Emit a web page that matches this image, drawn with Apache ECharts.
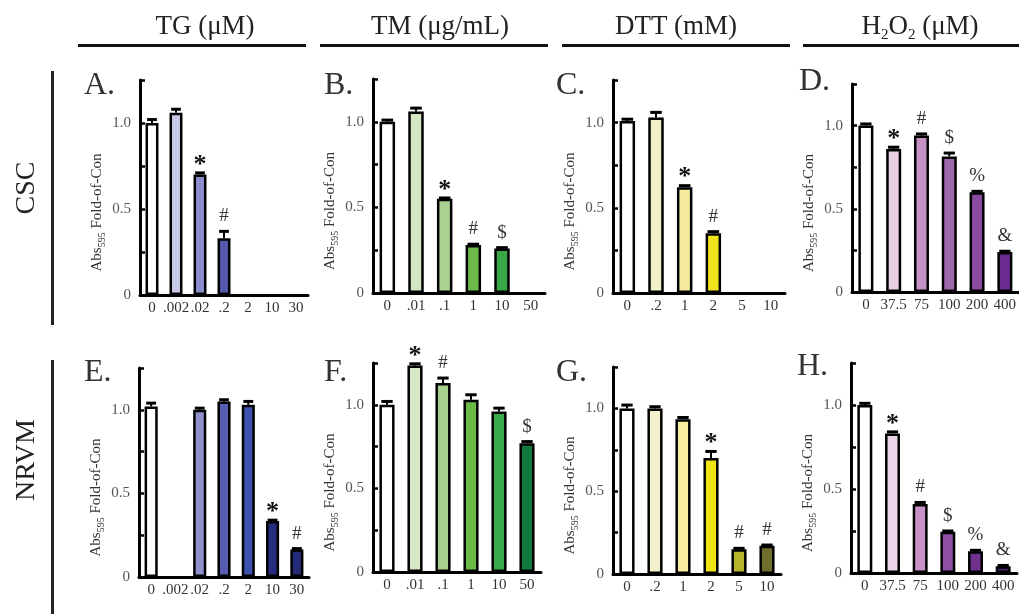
<!DOCTYPE html>
<html>
<head>
<meta charset="utf-8">
<script src="https://cdn.jsdelivr.net/npm/echarts@6/dist/echarts.min.js"></script>
<style>html,body{margin:0;padding:0;background:#fff}#c{width:1019px;height:614px}</style>
</head>
<body>
<div id="c"></div>
<script>
// ---- categories (tick labels) ----
const tgCats = ['0', '.002', '.02', '.2', '2', '10', '30'];
const tmCats = ['0', '.01', '.1', '1', '10', '50'];
const dttCats = ['0', '.2', '1', '2', '5', '10'];
const h2o2Cats = ['0', '37.5', '75', '100', '200', '400'];

// ---- values (Abs595 fold of control) ----
const cscTG = [1.00, 1.06, 0.70, 0.33, null, null, null];
const cscTGErr = [0.02, 0.02, 0.01, 0.04, 0, 0, 0];
const cscTGSig = ['', '', '*', '#', '', '', ''];

const cscTM = [1.00, 1.06, 0.55, 0.28, 0.26, null];
const cscTMErr = [0.01, 0.02, 0.005, 0.005, 0.005, 0];
const cscTMSig = ['', '', '*', '#', '$', ''];

const cscDTT = [1.01, 1.03, 0.62, 0.35, null, null];
const cscDTTErr = [0.01, 0.03, 0.01, 0.01, 0, 0];
const cscDTTSig = ['', '', '*', '#', '', ''];

const cscH2O2 = [1.00, 0.86, 0.94, 0.815, 0.60, 0.24];
const cscH2O2Err = [0.01, 0.01, 0.01, 0.02, 0.005, 0.005];
const cscH2O2Sig = ['', '*', '#', '$', '%', '&'];

const nrvmTG = [1.02, null, 1.00, 1.05, 1.03, 0.335, 0.165];
const nrvmTGErr = [0.02, 0, 0.01, 0.01, 0.02, 0.005, 0.005];
const nrvmTGSig = ['', '', '', '', '', '*', '#'];

const nrvmTM = [1.00, 1.235, 1.13, 1.03, 0.96, 0.77];
const nrvmTMErr = [0.02, 0.01, 0.03, 0.03, 0.02, 0.01];
const nrvmTMSig = ['', '*', '#', '', '', '$'];

const nrvmDTT = [1.00, 1.00, 0.935, 0.70, 0.15, 0.17];
const nrvmDTTErr = [0.02, 0.01, 0.01, 0.04, 0.005, 0.005];
const nrvmDTTSig = ['', '', '', '*', '#', '#'];

const nrvmH2O2 = [1.00, 0.83, 0.41, 0.245, 0.13, 0.04];
const nrvmH2O2Err = [0.01, 0.01, 0.01, 0.005, 0.005, 0.005];
const nrvmH2O2Sig = ['', '*', '#', '$', '%', '&'];

// ---- styles ----
const tgCscColors = ['#ffffff', '#c9c9e8', '#8b8ecb', '#5558ad', '#000', '#000', '#000'];
const tgNrvmColors = ['#ffffff', '#000', '#8f91cd', '#585cb3', '#3d53ad', '#272c80', '#252a77'];
const tmCscColors = ['#ffffff', '#d4e7c2', '#a9d18f', '#6dba48', '#38a847', '#000'];
const tmNrvmColors = ['#ffffff', '#d6e9c6', '#a8d190', '#6cba46', '#3aab4b', '#107a3e'];
const dttCscColors = ['#ffffff', '#f3f0c8', '#f6eb9c', '#f0e21c', '#000', '#000'];
const dttNrvmColors = ['#ffffff', '#f4f1cd', '#f7eda0', '#f0e314', '#b5b62c', '#6f6e2c'];
const h2o2CscColors = ['#ffffff', '#e8cfe4', '#c591c4', '#a066ac', '#8a4aa0', '#6b2b90'];
const h2o2NrvmColors = ['#ffffff', '#edd5e9', '#c894c7', '#8e4ea2', '#70308d', '#4b1e6f'];

const FONT = '"Liberation Serif", "DejaVu Serif", serif';

const panels = [
  {letter: 'A.', cats: tgCats, vals: cscTG, errs: cscTGErr, sig: cscTGSig, colors: tgCscColors, left: 140, top: 80, width: 168, height: 215, lx: 84, ly: 70},
  {letter: 'B.', cats: tmCats, vals: cscTM, errs: cscTMErr, sig: cscTMSig, colors: tmCscColors, left: 373, top: 79, width: 172, height: 214, lx: 324, ly: 70},
  {letter: 'C.', cats: dttCats, vals: cscDTT, errs: cscDTTErr, sig: cscDTTSig, colors: dttCscColors, left: 613, top: 80, width: 172, height: 213, lx: 556, ly: 70},
  {letter: 'D.', cats: h2o2Cats, vals: cscH2O2, errs: cscH2O2Err, sig: cscH2O2Sig, colors: h2o2CscColors, left: 852, top: 84, width: 168, height: 208, lx: 799, ly: 66},
  {letter: 'E.', cats: tgCats, vals: nrvmTG, errs: nrvmTGErr, sig: nrvmTGSig, colors: tgNrvmColors, left: 139, top: 368, width: 170, height: 209, lx: 84, ly: 357},
  {letter: 'F.', cats: tmCats, vals: nrvmTM, errs: nrvmTMErr, sig: nrvmTMSig, colors: tmNrvmColors, left: 373, top: 363, width: 168, height: 209, lx: 324, ly: 357},
  {letter: 'G.', cats: dttCats, vals: nrvmDTT, errs: nrvmDTTErr, sig: nrvmDTTSig, colors: dttNrvmColors, left: 613, top: 367, width: 168, height: 207, lx: 556, ly: 357},
  {letter: 'H.', cats: h2o2Cats, vals: nrvmH2O2, errs: nrvmH2O2Err, sig: nrvmH2O2Sig, colors: h2o2NrvmColors, left: 851, top: 363, width: 166, height: 210, lx: 797, ly: 351}
];

const grid = [], xAxis = [], yAxis = [], series = [];
panels.forEach((p, i) => {
  grid.push({left: p.left, top: p.top, width: p.width, height: p.height, containLabel: false});
  xAxis.push({
    gridIndex: i, type: 'category', data: p.cats,
    axisLine: {onZero: false, lineStyle: {color: '#000', width: 3}},
    axisTick: {alignWithLabel: true, length: 7, lineStyle: {color: '#000', width: 2.5}},
    axisLabel: {interval: 0, color: '#333', fontSize: 15, fontFamily: FONT, margin: 6}
  });
  yAxis.push({
    gridIndex: i, type: 'value', min: 0, max: 1.25, interval: 0.25,
    axisLine: {show: true, lineStyle: {color: '#000', width: 3}},
    axisTick: {show: true, inside: true, length: 5, lineStyle: {color: '#000', width: 2.5}},
    splitLine: {show: false},
    axisLabel: {
      color: '#555', fontSize: 15, fontFamily: FONT, margin: 9,
      formatter: v => (v === 0 ? '0' : v === 0.5 ? '0.5' : v === 1 ? '1.0' : '')
    },
    name: '{a|Abs}{s|595}{a| Fold-of-Con}',
    nameLocation: 'middle', nameGap: 33, nameRotate: 90,
    nameTextStyle: {
      color: '#333', fontFamily: FONT, padding: [0, 50, 0, 0],
      rich: {
        a: {fontSize: 15, fontFamily: FONT, color: '#333', lineHeight: 20, verticalAlign: 'middle'},
        s: {fontSize: 10, fontFamily: FONT, color: '#333', lineHeight: 10, verticalAlign: 'bottom'}
      }
    }
  });
  series.push({
    type: 'bar', xAxisIndex: i, yAxisIndex: i, barWidth: '54%',
    data: p.vals.map((v, k) => v == null ? '-' : {value: v, itemStyle: {color: p.colors[k]}}),
    itemStyle: {borderColor: '#000', borderWidth: 2.5},
    emphasis: {disabled: true}, animation: false
  });
  series.push({
    type: 'custom', xAxisIndex: i, yAxisIndex: i, animation: false, z: 5,
    data: p.vals.map((v, k) => v == null ? [k, 0, 0] : [k, v, p.errs[k]]),
    renderItem: function (params, api) {
      const k = params.dataIndex;
      if (p.vals[k] == null) return null;
      const v = api.value(1), e = api.value(2);
      const base = api.coord([k, v]);
      const top = api.coord([k, v + e]);
      const bw = api.size([1, 0])[0] * 0.54;
      const cw = bw * 0.75;
      const children = [
        {type: 'line', shape: {x1: base[0], y1: base[1], x2: top[0], y2: top[1]}, style: {stroke: '#000', lineWidth: 2}},
        {type: 'line', shape: {x1: top[0] - cw / 2, y1: top[1], x2: top[0] + cw / 2, y2: top[1]}, style: {stroke: '#000', lineWidth: 3}}
      ];
      const s = p.sig[k];
      if (s) {
        const isStar = s === '*';
        children.push({
          type: 'text', x: top[0], y: top[1] - (isStar ? 8 : 15),
          style: {text: s, fill: isStar ? '#111' : '#333', align: 'center', verticalAlign: 'middle',
                  font: (isStar ? 'bold 26px ' : '19px ') + FONT}
        });
      }
      return {type: 'group', children};
    }
  });
});

const graphic = [];
// header texts and lines
const headers = [
  {text: 'TG (μM)', x: 205},
  {text: 'TM (μg/mL)', x: 440},
  {text: 'DTT (mM)', x: 676},
  {text: '{t|H}{s|2}{t|O}{s|2}{t| (μM)}', x: 920, rich: true}
];
headers.forEach(h => {
  graphic.push({
    type: 'text', x: h.x, y: 27,
    style: h.rich ? {
      text: h.text, align: 'center', verticalAlign: 'middle', fill: '#222',
      rich: {t: {font: '27px ' + FONT, fill: '#222', lineHeight: 32, verticalAlign: 'middle'},
             s: {font: '15px ' + FONT, fill: '#222', lineHeight: 16, verticalAlign: 'bottom'}}
    } : {text: h.text, align: 'center', verticalAlign: 'middle', font: '27px ' + FONT, fill: '#222'}
  });
});
[[78, 306], [320, 548], [562, 790], [803, 1019]].forEach(l => {
  graphic.push({type: 'rect', shape: {x: l[0], y: 44, width: l[1] - l[0], height: 3}, style: {fill: '#111'}});
});
// row labels
graphic.push({type: 'text', x: 27, y: 188, rotation: Math.PI / 2,
  style: {text: 'CSC', align: 'center', verticalAlign: 'middle', font: '28px ' + FONT, fill: '#222'}});
graphic.push({type: 'text', x: 27, y: 460, rotation: Math.PI / 2,
  style: {text: 'NRVM', align: 'center', verticalAlign: 'middle', font: '28px ' + FONT, fill: '#222'}});
graphic.push({type: 'rect', shape: {x: 51, y: 71, width: 3, height: 254}, style: {fill: '#222'}});
graphic.push({type: 'rect', shape: {x: 51, y: 360, width: 3, height: 254}, style: {fill: '#222'}});
// panel letters
panels.forEach(p => {
  graphic.push({type: 'text', x: p.lx, y: p.ly,
    style: {text: p.letter, align: 'left', verticalAlign: 'top', font: '32px ' + FONT, fill: '#333'}});
});

const chart = echarts.init(document.getElementById('c'), null, {renderer: 'canvas'});
chart.setOption({animation: false, grid, xAxis, yAxis, series, graphic});
</script>
</body>
</html>
